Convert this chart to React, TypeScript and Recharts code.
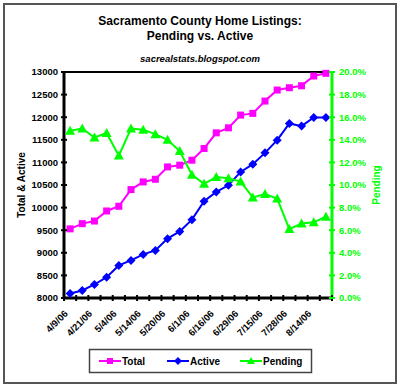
import React from "react";
import { ComposedChart, Line, XAxis, YAxis, ReferenceLine } from "recharts";

// survey dates (every other one is labelled on the axis)
const dates = [
  "4/9/06", "4/15/06", "4/21/06", "4/28/06", "5/4/06", "5/9/06", "5/14/06", "5/17/06",
  "5/20/06", "5/25/06", "6/1/06", "6/8/06", "6/16/06", "6/22/06", "6/29/06", "7/7/06",
  "7/15/06", "7/21/06", "7/28/06", "8/4/06", "8/14/06", "8/21/06",
];

const totalListings = [
  9530, 9645, 9703, 9925, 10029, 10399, 10568, 10627, 10900, 10938, 11049,
  11308, 11654, 11765, 12047, 12084, 12357, 12601, 12652, 12696, 12911, 12971,
];

const activeListings = [
  8100, 8166, 8299, 8461, 8721, 8831, 8965, 9053, 9313, 9474, 9733,
  10140, 10346, 10494, 10789, 10960, 11211, 11492, 11862, 11803, 11996, 11996,
];

// pending as % of listings
const pendingPct = [
  14.8, 15.0, 14.2, 14.6, 12.6, 15.0, 14.9, 14.5, 14.0, 13.0, 10.9,
  10.1, 10.7, 10.6, 10.3, 8.9, 9.2, 8.8, 6.1, 6.6, 6.7, 7.2,
];

const leftTicks = [8000, 8500, 9000, 9500, 10000, 10500, 11000, 11500, 12000, 12500, 13000];
const rightTicks = [0, 2, 4, 6, 8, 10, 12, 14, 16, 18, 20];

const data = dates.map((d, i) => ({
  date: d,
  total: totalListings[i],
  active: activeListings[i],
  pending: pendingPct[i],
}));

const FONT = "'Liberation Sans', Arial, sans-serif";
const MAGENTA = "#FF00FF";
const BLUE = "#0000FF";
const GREEN = "#00FF00";

const PLOT_L = 64;
const PLOT_R = 332;
const PLOT_T = 72;
const PLOT_B = 298;
const BAND = (PLOT_R - PLOT_L) / dates.length;

const LeftTick = ({ y, payload }: any) => (
  <g>
    <line x1={PLOT_L - 3} x2={PLOT_L + 3} y1={y} y2={y} stroke="#000" strokeWidth={2} />
    <text x={PLOT_L - 6} y={y} dy="0.35em" textAnchor="end" fontFamily={FONT} fontWeight="bold" fontSize={9.5} fill="#000">
      {payload.value}
    </text>
  </g>
);

const RightTick = ({ y, payload }: any) => (
  <g>
    <line x1={PLOT_R - 3} x2={PLOT_R + 3} y1={y} y2={y} stroke={GREEN} strokeWidth={2} />
    <text x={PLOT_R + 7} y={y} dy="0.35em" textAnchor="start" fontFamily={FONT} fontWeight="bold" fontSize={9.5} fill={GREEN}>
      {`${Number(payload.value).toFixed(1)}%`}
    </text>
  </g>
);

const DateTick = ({ x, index, payload }: any) => {
  const lx = x - BAND / 2;
  const tx = x - 4;
  const ty = PLOT_B + 14;
  return (
    <g>
      <line x1={lx} x2={lx} y1={PLOT_B - 3} y2={PLOT_B + 3} stroke="#000" strokeWidth={2} />
      {index === dates.length - 1 && (
        <line x1={x + BAND / 2} x2={x + BAND / 2} y1={PLOT_B - 3} y2={PLOT_B + 3} stroke="#000" strokeWidth={2} />
      )}
      {index % 2 === 0 && (
        <text
          x={tx}
          y={ty}
          dy="0.35em"
          textAnchor="end"
          transform={`rotate(-45, ${tx}, ${ty})`}
          fontFamily={FONT}
          fontWeight="bold"
          fontSize={9.5}
          fill="#000"
        >
          {payload.value}
        </text>
      )}
    </g>
  );
};

const squareDot = (props: any) => (
  <rect key={`sq-${props.index}`} x={props.cx - 3.5} y={props.cy - 3.5} width={7} height={7} fill={MAGENTA} />
);

const diamondDot = (props: any) => {
  const { cx, cy } = props;
  return (
    <polygon
      key={`dm-${props.index}`}
      points={`${cx},${cy - 4.5} ${cx + 4.5},${cy} ${cx},${cy + 4.5} ${cx - 4.5},${cy}`}
      fill={BLUE}
    />
  );
};

const triangleDot = (props: any) => {
  const { cx, cy } = props;
  return (
    <polygon
      key={`tr-${props.index}`}
      points={`${cx},${cy - 5} ${cx + 5},${cy + 4} ${cx - 5},${cy + 4}`}
      fill={GREEN}
    />
  );
};

const legendItems = [
  { name: "Total", color: MAGENTA, x: 99, kind: "square" },
  { name: "Active", color: BLUE, x: 167, kind: "diamond" },
  { name: "Pending", color: GREEN, x: 240, kind: "triangle" },
];

const LegendMarker = ({ kind, cx, cy, color }: any) => {
  if (kind === "square") return <rect x={cx - 3} y={cy - 3} width={6} height={6} fill={color} />;
  if (kind === "diamond")
    return <polygon points={`${cx},${cy - 4} ${cx + 4},${cy} ${cx},${cy + 4} ${cx - 4},${cy}`} fill={color} />;
  return <polygon points={`${cx},${cy - 4} ${cx + 4},${cy + 3} ${cx - 4},${cy + 3}`} fill={color} />;
};

export default function App() {
  return (
    <div style={{ position: "absolute", left: 0, top: 0, width: 400, height: 387, background: "#fff", fontFamily: FONT }}>
      <div
        style={{
          position: "absolute",
          left: 3,
          top: 3,
          width: 394,
          height: 381,
          border: "2px solid #555",
          boxSizing: "border-box",
        }}
      />
      <div style={{ position: "absolute", left: 0, top: 14, width: 400, textAlign: "center", fontWeight: "bold", fontSize: 12, lineHeight: "15px" }}>
        Sacramento County Home Listings:
      </div>
      <div style={{ position: "absolute", left: 0, top: 29, width: 400, textAlign: "center", fontWeight: "bold", fontSize: 12, lineHeight: "15px" }}>
        Pending vs. Active
      </div>
      <div
        style={{
          position: "absolute",
          left: 0,
          top: 52,
          width: 400,
          textAlign: "center",
          fontWeight: "bold",
          fontStyle: "italic",
          fontSize: 9.5,
          lineHeight: "14px",
        }}
      >
        sacrealstats.blogspot.com
      </div>

      <div style={{ position: "absolute", left: 0, top: 0 }}>
        <ComposedChart width={400} height={387} data={data} margin={{ top: PLOT_T, right: 0, bottom: 0, left: 0 }}>
          <XAxis
            dataKey="date"
            interval={0}
            height={387 - PLOT_B}
            padding={{ left: BAND / 2, right: BAND / 2 }}
            tick={<DateTick />}
            tickLine={false}
            axisLine={{ stroke: "#000", strokeWidth: 3 }}
          />
          <YAxis
            yAxisId="left"
            width={PLOT_L}
            domain={[8000, 13000]}
            ticks={leftTicks}
            interval={0}
            tick={<LeftTick />}
            tickLine={false}
            axisLine={{ stroke: "#000", strokeWidth: 3 }}
            label={{
              value: "Total & Active",
              angle: -90,
              position: "insideLeft",
              offset: 21,
              style: { textAnchor: "middle", fontFamily: FONT, fontWeight: "bold", fontSize: 10, fill: "#000" },
            }}
          />
          <YAxis
            yAxisId="right"
            orientation="right"
            width={400 - PLOT_R}
            domain={[0, 20]}
            ticks={rightTicks}
            interval={0}
            tick={<RightTick />}
            tickLine={false}
            axisLine={{ stroke: GREEN, strokeWidth: 3 }}
            label={{
              value: "Pending",
              angle: -90,
              position: "insideRight",
              offset: 24,
              style: { textAnchor: "middle", fontFamily: FONT, fontWeight: "bold", fontSize: 10, fill: GREEN },
            }}
          />
          <ReferenceLine yAxisId="left" y={13000} stroke="#000" strokeWidth={2} />
          <Line
            yAxisId="left"
            dataKey="total"
            name="Total"
            stroke={MAGENTA}
            strokeWidth={2}
            dot={squareDot}
            activeDot={false}
            isAnimationActive={false}
          />
          <Line
            yAxisId="left"
            dataKey="active"
            name="Active"
            stroke={BLUE}
            strokeWidth={2}
            dot={diamondDot}
            activeDot={false}
            isAnimationActive={false}
          />
          <Line
            yAxisId="right"
            dataKey="pending"
            name="Pending"
            stroke={GREEN}
            strokeWidth={2}
            dot={triangleDot}
            activeDot={false}
            isAnimationActive={false}
          />
        </ComposedChart>
      </div>

      <svg width={400} height={387} style={{ position: "absolute", left: 0, top: 0, pointerEvents: "none" }}>
        <rect x={89.5} y={349.5} width={222} height={23} fill="#fff" stroke="#444" strokeWidth={1.5} />
        {legendItems.map((it) => (
          <g key={it.name}>
            <line x1={it.x} x2={it.x + 22} y1={361} y2={361} stroke={it.color} strokeWidth={2} />
            <LegendMarker kind={it.kind} cx={it.x + 11} cy={361} color={it.color} />
            <text x={it.x + 23} y={361} dy="0.35em" fontFamily={FONT} fontWeight="bold" fontSize={10} fill="#000">
              {it.name}
            </text>
          </g>
        ))}
      </svg>
    </div>
  );
}
